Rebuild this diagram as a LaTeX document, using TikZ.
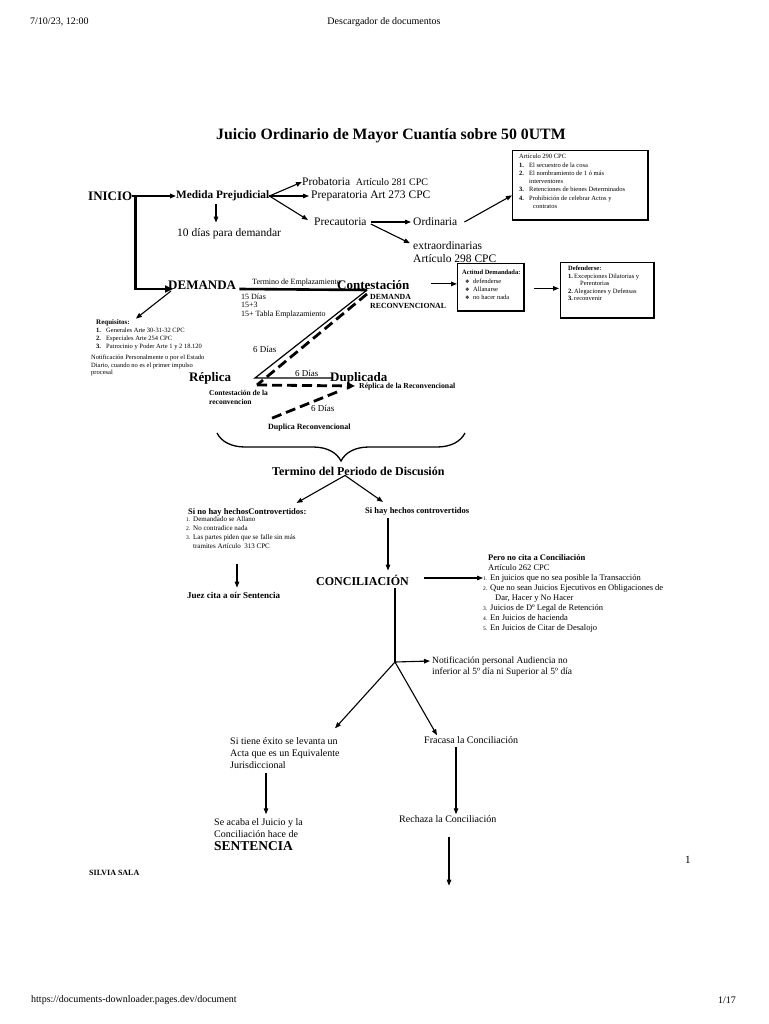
\documentclass[tikz,border=0pt]{standalone}
\usepackage{fontspec}
\setmainfont{Liberation Serif}
\newfontfamily\dingfont{DejaVu Sans}
\usetikzlibrary{arrows.meta,calc,decorations.pathreplacing}

\tikzset{
  page/.style={inner sep=0pt, anchor=west, font=\fontsize{10}{12}\selectfont},
  txt/.style={inner sep=0pt, anchor=west, font=\fontsize{11.5}{13}\selectfont},
  mid/.style={inner sep=0pt, anchor=west, align=left, font=\fontsize{10}{12}\selectfont},
  hd/.style={inner sep=0pt, anchor=west, font=\bfseries\fontsize{13}{15}\selectfont},
  mb/.style={inner sep=0pt, anchor=west, font=\bfseries\fontsize{11.3}{13}\selectfont},
  lbl/.style={inner sep=0pt, anchor=west, align=left, font=\bfseries\fontsize{7.7}{9}\selectfont},
  small/.style={inner sep=0pt, anchor=west, align=left, font=\fontsize{8}{8.3}\selectfont},
  note/.style={inner sep=0pt, anchor=north west, align=left, font=\fontsize{6.5}{8.3}\selectfont},
  arr/.style={-{Triangle[length=6pt,width=4.5pt]}, line width=1.1pt},
  fat/.style={line width=2.6pt},
  dsh/.style={line width=2.8pt, dash pattern=on 10pt off 5pt},
  boxed/.style={draw, line width=0.8pt, anchor=north west, inner sep=0pt},
}
\newcommand{\nro}[1]{\makebox[10pt][l]{\textbf{#1}}}
\newcommand{\nrs}[1]{\makebox[7pt][l]{\fontsize{5.5}{6}\selectfont #1}}
\newcommand{\dmd}{\makebox[8pt][l]{\dingfont\fontsize{5}{6}\selectfont ❖}}

\begin{document}
\begin{tikzpicture}[x=1pt,y=-1pt]
  \useasboundingbox (0,0) rectangle (768,1024);
  \fill[white] (0,0) rectangle (768,1024);

  % header and footer of the printed page
  \node[page] (fecha) at (30,22) {7/10/23, 12:00};
  \node[page, anchor=center] (sitio) at (384,22) {Descargador de documentos};
  \node[page] (url) at (31,1000) {https://documents-downloader.pages.dev/document};
  \node[page, anchor=east] (hoja) at (736,1000) {1/17};
  \node[page, font=\fontsize{11}{12}\selectfont] (nro) at (685,860) {1};
  \node[lbl, font=\bfseries\fontsize{8}{9}\selectfont] (autora) at (89,873) {SILVIA SALA};

  \node[inner sep=0pt, anchor=west, font=\bfseries\fontsize{15.8}{18}\selectfont] (titulo) at (216,136)
    {Juicio Ordinario de Mayor Cuantía sobre 50 0UTM};

  % inicio and medida prejudicial
  \node[hd] (inicio) at (88,196) {INICIO};
  \node[mb] (medida) at (176,196) {Medida Prejudicial};
  \node[txt] (diez) at (177,234) {10 días para demandar};
  \node[txt] (probatoria) at (302,182) {Probatoria\ \ {\fontsize{10}{12}\selectfont Artículo 281 CPC}};
  \node[txt] (preparatoria) at (311,196) {Preparatoria Art 273 CPC};
  \node[txt] (precautoria) at (314,222) {Precautoria};
  \node[txt] (ordinaria) at (413,222) {Ordinaria};
  \node[txt, align=left, font=\fontsize{11.5}{13}\selectfont] (extra) at (413,252) {extraordinarias\\Artículo 298 CPC};

  \node[boxed, minimum width=135pt, minimum height=69pt] (box290) at (512,150) {};
  \node[note] (art290) at (519,154) {Artículo 290 CPC\\
    \nro{1.}El secuestro de la cosa\\
    \nro{2.}El nombramiento de 1 ó más\\
    \hspace*{10pt}interventores\\
    \nro{3.}Retenciones de bienes Determinados\\
    \nro{4.}Prohibición de celebrar Actos y\\
    \hspace*{14pt}contratos};
  \draw[line width=1.8pt] (box290.north east) -- (box290.south east) -- (box290.south west);

  \draw[arr, line width=1.5pt] (inicio.east) -- (medida.west);
  \draw[arr] ($(medida.south west)+(40,3)$) -- ($(diez.north west)+(39,-6)$);
  \draw[arr] (medida.east) -- (probatoria.west);
  \draw[arr] (medida.east) -- ($(preparatoria.west)+(-2,0)$);
  \draw[arr] (medida.east) -- ($(precautoria.west)+(-6,-2)$);
  \draw[arr] ($(precautoria.east)+(4,0)$) -- ($(ordinaria.west)+(-2,0)$);
  \draw[arr] ($(precautoria.east)+(4,2)$) -- ($(extra.north west)+(-3,2)$);
  \draw[arr] ($(ordinaria.east)+(7,0)$) -- ($(box290.north west)!0.65!(box290.south west)$);

  % demanda
  \node[hd] (demanda) at (168,285) {DEMANDA};
  \node[small, font=\fontsize{8}{9}\selectfont] (emplaz) at (252,283) {Termino de Emplazamiento};
  \node[hd] (contestacion) at (337,285) {Contestación};
  \node[small] (plazos) at (241,306) {15 Días\\15+3\\15+ Tabla Emplazamiento};
  \node[lbl, font=\bfseries\fontsize{7.8}{9}\selectfont] (reconv) at (370,301.5) {DEMANDA\\RECONVENCIONAL};

  \node[lbl, font=\bfseries\fontsize{7}{8}\selectfont] (req) at (96,323) {Requisitos:};
  \node[note, font=\fontsize{6.5}{8}\selectfont] (reqlist) at (96,328) {\nro{1.}Generales Arte 30-31-32 CPC\\
    \nro{2.}Especiales Arte 254 CPC\\
    \nro{3.}Patrocinio y Poder Arte 1 y 2 18.120};
  \node[note, font=\fontsize{6.5}{7.3}\selectfont] (notif1) at (91,355) {Notificación Personalmente o por el Estado\\
    Diario, cuando no es el primer impulso\\procesal};

  \draw[fat, -{Triangle[length=8pt,width=7pt]}] ($(inicio.east)+(3,0)$) |- ($(demanda.west)+(5,4)$);
  \draw[arr] ($(demanda.west)+(3,6)$) -- ($(req.north east)+(6,-1)$);
  \coordinate (vA) at (367,290);
  \coordinate (vB) at (255,378);
  \coordinate (dA) at (367,294);
  \coordinate (dB) at (257,385);
  \draw[fat] ($(demanda.east)+(3,4)$) -- (vA);

  \node[boxed, minimum width=66pt, minimum height=47pt] (actitud) at (457,263) {};
  \node[note] (actlist) at (462,270) {\textbf{Actitud Demandada:}\\
    \hspace*{3pt}\dmd defenderse\\
    \hspace*{3pt}\dmd Allanarse\\
    \hspace*{3pt}\dmd no hacer nada};
  \draw[line width=1.8pt] (actitud.north east) -- (actitud.south east) -- (actitud.south west);
  \node[boxed, minimum width=93pt, minimum height=55pt] (defbox) at (560,262) {};
  \node[note, font=\fontsize{6.5}{7.5}\selectfont] (deflist) at (568,266) {\textbf{Defenderse:}\\
    \makebox[6pt][l]{\textbf{1.}}Excepciones Dilatorias y\\
    \hspace*{12pt}Perentorias\\
    \makebox[6pt][l]{\textbf{2.}}Alegaciones y Defensas\\
    \makebox[6pt][l]{\textbf{3.}}reconvenir};
  \draw[line width=1.8pt] (defbox.north east) -- (defbox.south east) -- (defbox.south west);
  \draw[arr] ($(actitud.west)+(-26,-3)$) -- ($(actitud.west)+(0,-3)$);
  \draw[arr] ($(actitud.east)+(10,1.5)$) -- ($(defbox.west)+(-1,-1.5)$);

  % replica y duplica
  \node[hd] (replica) at (189,378) {Réplica};
  \node[hd] (duplicada) at (330,378) {Duplicada};
  \node[mid, font=\fontsize{9}{10}\selectfont] (dias1) at (253,349) {6 Días};
  \node[mid, font=\fontsize{9}{10}\selectfont] (dias2) at (295,373) {6 Días};
  \node[mid, font=\fontsize{9}{10}\selectfont] (dias3) at (311,408) {6 Días};
  \node[lbl] (repreconv) at (359,387) {Réplica de la Reconvencional};
  \node[lbl, font=\bfseries\fontsize{7.5}{9}\selectfont] (contreconv) at (209,397.5) {Contestación de la\\reconvencion};
  \node[lbl, font=\bfseries\fontsize{8}{9}\selectfont] (duplreconv) at (268,428) {Duplica Reconvencional};

  \draw[line width=1.2pt] (vA) -- (vB) -- ($(duplicada.west)+(3,0)$);
  \draw[dsh] (dA) -- (dB);
  \draw[dsh, -{Triangle[length=8pt,width=7pt]}] (dB) -- ($(repreconv.west)+(-4,-1)$);
  \draw[dsh] ($(repreconv.west)+(-22,5)$) -- ($(duplreconv.north west)+(4,-6)$);

  % discusion
  \coordinate (llaveA) at (217,433);
  \coordinate (llaveB) at (465,433);
  \draw[decorate, decoration={brace, mirror, amplitude=28pt}, line width=1.3pt] (llaveA) -- (llaveB);
  \node[inner sep=0pt, anchor=west, font=\bfseries\fontsize{12}{14}\selectfont] (termino) at (272,471)
    {Termino del Periodo de Discusión};

  \node[lbl, font=\bfseries\fontsize{8.5}{10}\selectfont] (sino) at (188,512) {Si no hay hechosControvertidos:};
  \node[note, font=\fontsize{7}{9}\selectfont] (sinolist) at (186,516) {\nrs{1.}Demandado se Allano\\
    \nrs{2.}No contradice nada\\
    \nrs{3.}Las partes piden que se falle sin más\\
    \hspace*{7pt}tramites Artículo\ \ 313 CPC};
  \node[lbl, font=\bfseries\fontsize{9}{10}\selectfont] (juez) at (187,595) {Juez cita a oír Sentencia};
  \node[lbl, font=\bfseries\fontsize{8.5}{10}\selectfont] (sihay) at (365,511) {Si hay hechos controvertidos};

  \draw[arr] ($(termino.south west)+(73,0)$) -- ($(sino.north east)+(-10,-5)$);
  \draw[arr] ($(termino.south west)+(73,0)$) -- ($(sihay.north west)+(18,-5)$);
  \draw[arr] ($(juez.north west)+(50,-28)$) -- ($(juez.north west)+(50,-4)$);

  % conciliacion
  \node[hd, font=\bfseries\fontsize{12}{14}\selectfont] (concil) at (316,580) {CONCILIACIÓN};
  \node[note, font=\fontsize{8.5}{10}\selectfont] (pero) at (483,554) {\hspace*{5pt}\textbf{Pero no cita a Conciliación}\\
    \hspace*{5pt}Artículo 262 CPC\\
    \nrs{1.}En juicios que no sea posible la Transacción\\
    \nrs{2.}Que no sean Juicios Ejecutivos en Obligaciones de\\
    \hspace*{12pt}Dar, Hacer y No Hacer\\
    \nrs{3.}Juicios de Dº Legal de Retención\\
    \nrs{4.}En Juicios de hacienda\\
    \nrs{5.}En Juicios de Citar de Desalojo};
  \draw[arr] ($(sihay.south west)+(23,3)$) -- ($(concil.north west)+(72,-4)$);
  \draw[arr] ($(concil.east)+(15,-2)$) -- ($(pero.north west)+(0,24)$);

  \coordinate (nudo) at (395,662);
  \node[mid, font=\fontsize{9.5}{11}\selectfont] (notif2) at (432,667) {Notificación personal Audiencia no\\
    inferior al 5º día ni Superior al 5º día};
  \node[mid] (exito) at (230,753) {Si tiene éxito se levanta un\\Acta que es un Equivalente\\Jurisdiccional};
  \node[mid] (fracasa) at (424,740) {Fracasa la Conciliación};
  \node[mid] (acaba) at (214,828) {Se acaba el Juicio y la\\Conciliación hace de};
  \node[hd, font=\bfseries\fontsize{13.5}{15}\selectfont] (sentencia) at (214,846) {SENTENCIA};
  \node[mid] (rechaza) at (399,819) {Rechaza la Conciliación};

  \draw[line width=1.2pt] ($(concil.south west)+(79,3)$) -- (nudo);
  \draw[arr] (nudo) -- ($(notif2.west)+(-2,-6)$);
  \draw[arr] (nudo) -- ($(exito.north west)+(105,-9)$);
  \draw[arr] (nudo) -- ($(fracasa.north west)+(13,-1)$);
  \draw[arr] ($(exito.south west)+(36,4)$) -- ($(acaba.north west)+(52,-4)$);
  \draw[arr] ($(fracasa.south west)+(32,3)$) -- ($(rechaza.north west)+(57,-1)$);
  \draw[arr] ($(rechaza.south west)+(50,14)$) -- ($(rechaza.south west)+(50,63)$);
\end{tikzpicture}
\end{document}
